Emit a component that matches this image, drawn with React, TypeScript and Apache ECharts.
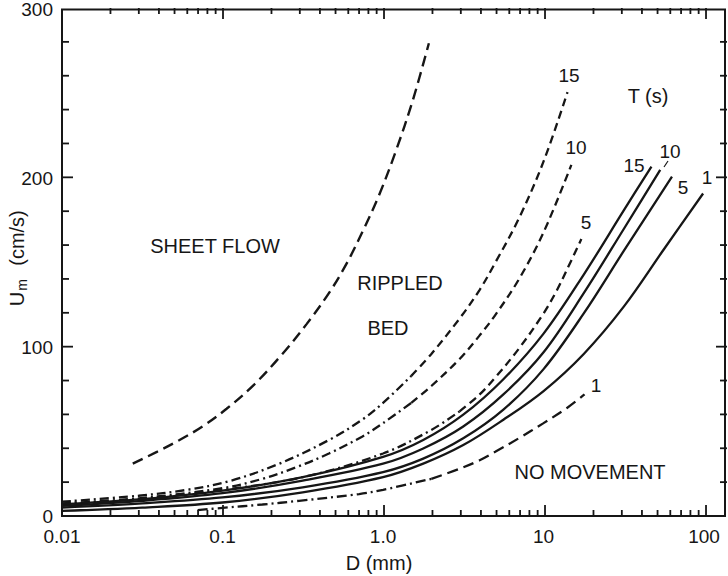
import React, { useEffect, useRef } from 'react';
import * as echarts from 'echarts';

// Axis extents / tick labels
const X_MIN = 0.01;
const X_MAX = 135;
const Y_MIN = 0;
const Y_MAX = 300;
const xTickLabels: Record<string, string> = { '-2': '0.01', '-1': '0.1', '0': '1.0', '1': '10', '2': '100' };

// Sheet flow boundary (long dashes)
const sheetFlowD = [0.0276, 0.039, 0.054, 0.075, 0.106, 0.158, 0.236, 0.333, 0.46, 0.589, 0.75, 0.944, 1.2, 1.53, 1.93];
const sheetFlowU = [31, 38, 45, 53, 63.5, 78, 96, 113.5, 132, 149, 169, 190, 216, 246, 280];

// Dashed curves (T = 15, 10, 5, 1): dash-dot part at small D, dashed part at large D
const t15DotD = [0.01, 0.03, 0.06, 0.11, 0.226, 0.46, 0.74, 1.0, 1.5];
const t15DotU = [8.5, 12, 15.5, 20.6, 31, 45, 57, 67, 83];
const t15DashD = [1.5, 2, 3, 4, 5, 7, 10, 14.1];
const t15DashU = [83, 96, 117, 134, 150, 176, 210, 251];

const t10DotD = [0.01, 0.03, 0.1, 0.177, 0.29, 0.46, 0.74, 1.0, 1.5];
const t10DotU = [7.5, 10.5, 16.5, 22, 29, 37, 47, 55, 67];
const t10DashD = [1.5, 2, 3, 4, 5, 7, 10, 14.9];
const t10DashU = [67, 77, 93, 107, 119, 140, 168, 208];

const t5DotD = [0.01, 0.03, 0.1, 0.316, 1, 2, 3];
const t5DotU = [7, 10, 15.5, 23, 37, 51, 62];
const t5DashD = [3, 4, 5, 7, 10, 12, 14, 17.2];
const t5DashU = [62, 72, 82, 99, 120, 133, 146, 164];

const t1DotD = [0.07, 0.1, 0.177, 0.3, 0.71, 1.0, 2];
const t1DotU = [3.5, 4.8, 6.8, 9, 13, 15.5, 22];
const t1DashD = [2, 3, 4, 5, 7, 10, 14, 18];
const t1DashU = [22, 28, 33, 38, 46, 55, 64, 72];

// Solid curves (threshold), T = 15, 10, 5, 1
const s15D = [0.01, 0.0316, 0.1, 0.316, 1, 1.78, 3.16, 5.62, 10, 17.8, 31.6, 47];
const s15U = [7, 10, 15, 23, 35, 45, 60, 81, 108, 143, 181, 207];
const s10D = [0.01, 0.0316, 0.1, 0.316, 1, 1.78, 3.16, 5.62, 10, 17.8, 31.6, 53.3];
const s10U = [6, 9, 13.5, 21, 31, 40, 53, 72, 97, 132, 170, 205];
const s5D = [0.01, 0.0316, 0.1, 0.316, 1, 1.78, 3.16, 5.62, 10, 17.8, 31.6, 63.1];
const s5U = [5, 7.5, 11, 17, 26, 34, 46, 63, 87, 120, 157, 201];
const s1D = [0.01, 0.0316, 0.1, 0.316, 1, 1.78, 3.16, 5.62, 10, 17.8, 31.6, 56.2, 98.6];
const s1U = [3, 5, 8, 14, 23, 31, 42, 57, 74, 96, 124, 158, 191];

const pairs = (d: number[], u: number[]) => d.map((v, i) => [v, u[i]]);

const INK = '#161616';
const FONT = '"Liberation Sans", Arial, Helvetica, sans-serif';

// Chart geometry
const W = 728;
const H = 576;
const GRID = { left: 62, right: 1, top: 8, bottom: 60 };
const PLOT_W = W - GRID.left - GRID.right;
const PLOT_H = H - GRID.top - GRID.bottom;

// Axis scale helpers (same log / linear mapping as the chart axes) for the tick decoration
const lx0 = Math.log10(X_MIN);
const lx1 = Math.log10(X_MAX);
const xPx = (v: number) => GRID.left + (PLOT_W * (Math.log10(v) - lx0)) / (lx1 - lx0);
const yPx = (u: number) => GRID.top + (PLOT_H * (Y_MAX - u)) / (Y_MAX - Y_MIN);

function tickGraphics() {
  const out: any[] = [];
  const seg = (x1: number, y1: number, x2: number, y2: number) =>
    out.push({
      type: 'line',
      silent: true,
      shape: { x1, y1, x2, y2 },
      style: { stroke: INK, lineWidth: 1.8 },
    });
  for (let e = -2; e <= 2; e++) {
    for (let m = 1; m <= 9; m++) {
      const v = m * Math.pow(10, e);
      if (v <= X_MIN * 1.0001 || v > X_MAX) continue;
      const len = m === 1 ? 11 : 6;
      const x = xPx(v);
      const yb = yPx(Y_MIN);
      const yt = yPx(Y_MAX);
      seg(x, yb, x, yb - len);
      seg(x, yt, x, yt + len);
    }
  }
  for (let u = 20; u < Y_MAX; u += 20) {
    const len = u % 100 === 0 ? 11 : 7;
    const y = yPx(u);
    const xl = xPx(X_MIN);
    const xr = xPx(X_MAX);
    seg(xl, y, xl + len, y);
    seg(xr, y, xr - len, y);
  }
  return out;
}

function lineSeries(d: number[], u: number[], type: any, width = 2.3) {
  return {
    type: 'line',
    data: pairs(d, u),
    showSymbol: false,
    symbol: 'none',
    smooth: 0.35,
    silent: true,
    lineStyle: { color: INK, width, type },
    z: 3,
  };
}

export default function App() {
  const ref = useRef<HTMLDivElement>(null);
  useEffect(() => {
    const chart = echarts.init(ref.current!, null, { renderer: 'svg' });
    const txt = (text: string, x: number, y: number, size = 20, extra: any = {}) => ({
      type: 'text',
      x,
      y,
      silent: true,
      ...extra,
      style: { text, fill: INK, fontSize: size, fontFamily: FONT, align: 'center', verticalAlign: 'middle' },
    });
    const option: any = {
      animation: false,
      backgroundColor: '#ffffff',
      textStyle: { fontFamily: FONT },
      grid: {
        ...GRID,
        show: true,
        borderColor: INK,
        borderWidth: 2,
        backgroundColor: 'transparent',
      },
      xAxis: {
        type: 'log',
        logBase: 10,
        min: X_MIN,
        max: X_MAX,
        axisLine: { show: false },
        axisTick: { show: false },
        splitLine: { show: false },
        minorTick: { show: false },
        axisLabel: {
          fontSize: 19,
          color: INK,
          margin: 11,
          fontFamily: FONT,
          formatter: (v: number) => {
            const e = Math.round(Math.log10(v) * 1000) / 1000;
            return xTickLabels[String(e)] ?? '';
          },
        },
      },
      yAxis: {
        type: 'value',
        min: Y_MIN,
        max: Y_MAX,
        interval: 100,
        axisLine: { show: false },
        axisTick: { show: false },
        splitLine: { show: false },
        axisLabel: { fontSize: 19, color: INK, margin: 9, fontFamily: FONT },
      },
      series: [
        lineSeries(sheetFlowD, sheetFlowU, [11, 6], 2.4),
        lineSeries(t15DotD, t15DotU, [9, 4, 2, 4]),
        lineSeries(t15DashD, t15DashU, [8, 5]),
        lineSeries(t10DotD, t10DotU, [9, 4, 2, 4]),
        lineSeries(t10DashD, t10DashU, [8, 5]),
        lineSeries(t5DotD, t5DotU, [9, 4, 2, 4]),
        lineSeries(t5DashD, t5DashU, [8, 5]),
        lineSeries(t1DotD, t1DotU, [10, 4, 2, 4]),
        lineSeries(t1DashD, t1DashU, [11, 6]),
        lineSeries(s15D, s15U, 'solid'),
        lineSeries(s10D, s10U, 'solid'),
        lineSeries(s5D, s5U, 'solid'),
        lineSeries(s1D, s1U, 'solid'),
      ],
      graphic: [
        ...tickGraphics(),
        txt('SHEET FLOW', 215, 246),
        txt('RIPPLED', 400, 283),
        txt('BED', 388, 328),
        txt('NO MOVEMENT', 590, 472),
        txt('T (s)', 648, 96),
        txt('15', 569, 75, 19),
        txt('10', 576, 147, 19),
        txt('5', 586, 222, 19),
        txt('15', 634, 165, 19),
        txt('10', 670, 151, 19),
        txt('5', 683, 187, 19),
        txt('1', 707, 177, 19),
        txt('1', 596, 385, 19),
        {
          type: 'line',
          silent: true,
          shape: { x1: 668, y1: 161, x2: 664, y2: 167 },
          style: { stroke: INK, lineWidth: 1.2 },
        },
        txt('D (mm)', 379, 563, 20),
        txt('U', 17, 299, 20, { rotation: Math.PI / 2 }),
        txt('m', 22, 285, 14, { rotation: Math.PI / 2 }),
        txt('(cm/s)', 17, 238, 20, { rotation: Math.PI / 2 }),
      ],
    };
    chart.setOption(option);
    return () => chart.dispose();
  }, []);
  return (
    <div
      ref={ref}
      style={{ width: W, height: H, position: 'absolute', left: 0, top: 0, background: '#fff' }}
    />
  );
}
